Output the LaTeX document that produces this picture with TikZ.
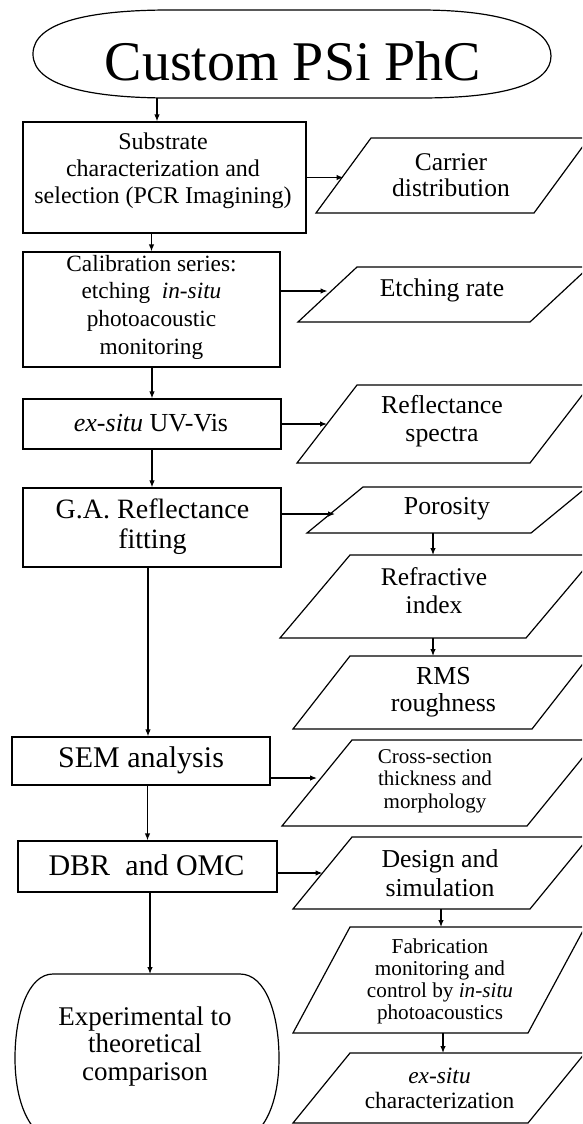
\documentclass[tikz,border=0pt]{standalone}
\usepackage{fontspec}
\setmainfont{Liberation Serif}
\usetikzlibrary{arrows.meta,calc}
\newcommand\mkpgram[6]{%
  \node[ghost, minimum width={#4+#3-#2}, minimum height={#6-#5}] (#1) at ({(#2+#3+#4)/2},{(#5+#6)/2}) {};
  \draw[shp] (#1.south west) -- ([xshift=#3pt]#1.north west) -- (#1.north east) -- ([xshift=-#3pt]#1.south east) -- cycle;
  \coordinate (#1-w) at ($(#1.south west)!.5!([xshift=#3pt]#1.north west)$);
}
\newcommand\fsz[2]{\fontsize{#1}{#2}\selectfont}
\begin{document}
\begin{tikzpicture}[x=1pt,y=-1pt,
  shp/.style={draw=black, line width=1.2pt, line join=miter},
  procbox/.style={draw=black, line width=1.2pt, rectangle, inner sep=0pt},
  ghost/.style={rectangle, draw=none, inner sep=0pt, outer sep=0pt},
  tx/.style={align=center, inner sep=0pt, text=black},
  arr/.style={line width=1.2pt, -{Latex[length=7pt,width=5.5pt]}}]
\useasboundingbox (0,0) rectangle (582,1124);
\fill[white] (0,0) rectangle (582,1124);
\clip (0,0) rectangle (582,1124);

% start terminal
\draw[shp] (33,54) .. controls (33,22) and (90,10) .. (170,10) -- (420,10) .. controls (505,10) and (551,28) .. (551,56) .. controls (551,84) and (505,98) .. (420,98) -- (170,98) .. controls (90,98) and (33,86) .. (33,54) -- cycle;
\node[tx, font=\fsz{56}{60}] (startt) at (293,61) {Custom PSi PhC};
\coordinate (start-s) at (157,98);

% left process boxes
\node[procbox, minimum width=283, minimum height=111] (b1) at (164.5,177.5) {};
\node[procbox, minimum width=257, minimum height=115] (b2) at (151.5,309.5) {};
\node[procbox, minimum width=258, minimum height=50] (b3) at (152,424) {};
\node[procbox, minimum width=258, minimum height=79] (b4) at (152,527.5) {};
\node[procbox, minimum width=258, minimum height=48] (sem) at (141,761) {};
\node[procbox, minimum width=259, minimum height=51] (dbr) at (147.5,866.5) {};

\node[tx, font=\fsz{24}{27}] (b1t) at (163,171) {Substrate\\characterization and\\selection (PCR Imagining)};
\node[tx, font=\fsz{23.3}{27.7}] (b2t) at (151.5,307) {Calibration series:\\etching\ \ \textit{in-situ}\\photoacoustic\\monitoring};
\node[tx, font=\fsz{26}{29}] (b3t) at (151,423) {\textit{ex-situ} UV-Vis};
\node[tx, font=\fsz{28}{30}] (b4t) at (152.5,527) {G.A. Reflectance\\fitting};
\node[tx, font=\fsz{30}{33}] (semt) at (141,760) {SEM analysis};
\node[tx, font=\fsz{30}{33}] (dbrt) at (146.5,865) {DBR\ \ and OMC};

% end terminal
\draw[shp] (53,974) -- (240,974) .. controls (266,974) and (279,1015) .. (279,1058) .. controls (279,1100) and (266,1135) .. (239,1142) -- (55,1142) .. controls (28,1135) and (15,1100) .. (15,1058) .. controls (15,1015) and (28,974) .. (53,974) -- cycle;
\coordinate (exp-n) at (150,974);
\node[tx, font=\fsz{27}{27.5}] (expt) at (145,1046) {Experimental to\\theoretical\\comparison};

% data parallelograms
\mkpgram{p1}{316}{55}{534}{138}{213}
\mkpgram{p2}{298}{59}{530}{267}{322}
\mkpgram{p3}{297}{60}{530}{385}{463}
\mkpgram{p4}{307}{56}{531}{487}{533}
\mkpgram{p5}{280}{70}{526}{555}{638}
\mkpgram{p6}{293}{57}{532}{656}{729}
\mkpgram{p7}{282}{70}{527}{740}{826}
\mkpgram{p8}{293}{59}{530}{837}{909}
\mkpgram{p9}{293}{57}{528}{927}{1033}
\mkpgram{p10}{293}{57}{528}{1053}{1123}

\node[tx, font=\fsz{25.5}{26}] (p1t) at (451,175) {Carrier\\distribution};
\node[tx, font=\fsz{25.6}{28}] (p2t) at (442,290) {Etching rate};
\node[tx, font=\fsz{25.8}{28}] (p3t) at (442,421) {Reflectance\\spectra};
\node[tx, font=\fsz{25.8}{28}] (p4t) at (447,509) {Porosity};
\node[tx, font=\fsz{25.5}{28}] (p5t) at (434,591) {Refractive\\index};
\node[tx, font=\fsz{25.9}{27}] (p6t) at (443.5,692) {RMS\\roughness};
\node[tx, font=\fsz{21}{22.5}] (p7t) at (435,781) {Cross-section\\thickness and\\morphology};
\node[tx, font=\fsz{25.8}{29}] (p8t) at (440,873) {Design and\\simulation};
\node[tx, font=\fsz{21.2}{22}] (p9t) at (440,981) {Fabrication\\monitoring and\\control by \textit{in-situ}\\photoacoustics};
\node[tx, font=\fsz{23.4}{25}] (p10t) at (439.5,1088) {\textit{ex-situ}\\characterization};

% connectors: main column
\draw[arr] (start-s) -- (start-s |- b1.north);
\draw[arr] (b1.south -| b2.north) -- (b2.north);
\draw[arr] (b2.south -| b3.north) -- (b3.north);
\draw[arr] (b3.south -| b4.north) -- (b4.north);
\draw[arr] ([xshift=-4pt]b4.south) -- ([xshift=-4pt]b4.south |- sem.north);
\draw[arr] (sem.south -| dbr.north) -- (dbr.north);
\draw[arr] (dbr.south -| exp-n) -- (exp-n);

% connectors: to data
\draw[arr] (b1.east) -- (b1.east -| p1-w);
\draw[arr] ([yshift=3.5pt]b2.east |- p2-w) -- ([yshift=3.5pt]p2-w);
\draw[arr] (b3.east) -- (b3.east -| p3-w);
\draw[arr] ([yshift=-4pt]b4.east |- p4-w) -- ([yshift=-4pt]p4-w);
\draw[arr] ([yshift=5pt]sem.east |- p7-w) -- ([yshift=5pt]p7-w);
\draw[arr] (dbr.east |- p8-w) -- (p8-w);

% connectors: data chains
\draw[arr] ([xshift=-5pt]p4.south -| p5.north) -- ([xshift=-5pt]p5.north);
\draw[arr] ([xshift=-5pt]p5.south) -- ([xshift=-5pt]p5.south |- p6.north);
\draw[arr] (p8.south) -- (p8.south |- p9.north);
\draw[arr] ([xshift=4pt]p9.south) -- ([xshift=4pt]p9.south |- p10.north);
\end{tikzpicture}
\end{document}
